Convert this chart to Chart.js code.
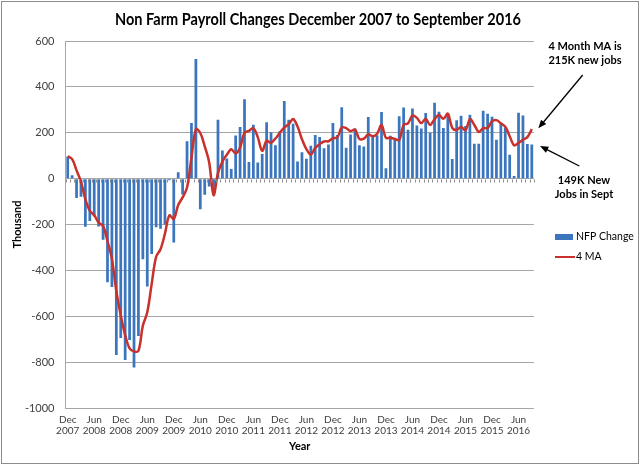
<!DOCTYPE html>
<html>
<head>
<meta charset="utf-8">
<script src="https://cdn.jsdelivr.net/npm/chart.js@4.4.1/dist/chart.umd.min.js"></script>
<style>
  html, body { margin: 0; padding: 0; background: #fff; }
  #wrap { width: 640px; height: 465px; }
</style>
</head>
<body>
<div id="wrap"><canvas id="nfpChart" width="640" height="465"></canvas></div>
<script>
// monthly change in nonfarm payrolls, thousands, Dec 2007 .. Sep 2016
const nfpChange = [
  97,
  15, -84, -79, -210, -185, -165, -209, -266, -452, -473, -769, -695,
  -791, -703, -823, -686, -351, -470, -329, -212, -219, -200, -7, -279,
  28, -69, 163, 243, 522, -133, -70, -34, -52, 257, 123, 88,
  42, 188, 225, 346, 73, 235, 70, 107, 246, 202, 146, 207,
  338, 257, 239, 75, 115, 87, 143, 190, 181, 132, 149, 243,
  190, 311, 135, 192, 218, 146, 140, 269, 185, 189, 291, 45,
  187, 168, 272, 310, 213, 306, 232, 218, 286, 200, 331, 292,
  221, 286, 86, 254, 274, 229, 279, 152, 152, 296, 283, 270,
  169, 242, 223, 104, 11, 287, 275, 151, 149
];

// 4 month moving average as plotted
const movingAvg4 = [
  97,
  85, 36, -13, -90, -140, -160, -192, -206, -273, -350, -490, -597,
  -682, -740, -753, -751, -641, -583, -459, -341, -308, -240, -160, -176,
  -115, -82, -39, 91, 215, 199, 141, 71, -72, 25, 74, 104,
  128, 110, 136, 200, 208, 220, 181, 121, 165, 156, 175, 200,
  223, 237, 260, 227, 172, 129, 105, 134, 150, 162, 163, 176,
  179, 223, 220, 207, 214, 173, 174, 193, 185, 196, 234, 178,
  178, 173, 168, 234, 241, 275, 265, 242, 261, 234, 259, 277,
  261, 283, 221, 212, 225, 211, 259, 234, 203, 220, 221, 250,
  255, 241, 226, 185, 145, 156, 169, 181, 216
];

const tickLabels = [
  'Dec 2007', 'Jun 2008', 'Dec 2008', 'Jun 2009', 'Dec 2009', 'Jun 2010',
  'Dec 2010', 'Jun 2011', 'Dec 2011', 'Jun 2012', 'Dec 2012', 'Jun 2013',
  'Dec 2013', 'Jun 2014', 'Dec 2014', 'Jun 2015', 'Dec 2015', 'Jun 2016'
];

const monthNames = ['Jan', 'Feb', 'Mar', 'Apr', 'May', 'Jun', 'Jul', 'Aug', 'Sep', 'Oct', 'Nov', 'Dec'];
const months = [];
for (let i = 0; i < nfpChange.length; i++) {
  const m = (11 + i) % 12;
  const y = 2007 + Math.floor((11 + i) / 12);
  months.push(monthNames[m] + ' ' + y);
}

const BAR_BLUE = '#3a75be';
const LINE_RED = '#c8312c';
const FONT = 'Lato, "Open Sans", sans-serif';

function arrow(ctx, x1, y1, x2, y2) {
  const a = Math.atan2(y2 - y1, x2 - x1);
  const h = 9;
  ctx.beginPath();
  ctx.moveTo(x1, y1);
  ctx.lineTo(x2 - Math.cos(a) * 4, y2 - Math.sin(a) * 4);
  ctx.stroke();
  ctx.beginPath();
  ctx.moveTo(x2, y2);
  ctx.lineTo(x2 - h * Math.cos(a - 0.38), y2 - h * Math.sin(a - 0.38));
  ctx.lineTo(x2 - h * Math.cos(a + 0.38), y2 - h * Math.sin(a + 0.38));
  ctx.closePath();
  ctx.fill();
}

// draw text squeezed sideways so it spans a given width (Calibri is narrower than Lato)
function fitText(ctx, text, cx, cy, width) {
  const w = ctx.measureText(text).width;
  const sx = Math.min(1, width / w);
  ctx.save();
  ctx.translate(cx, cy);
  ctx.scale(sx, 1);
  ctx.fillText(text, 0, 0);
  ctx.restore();
}

const decorations = {
  id: 'decorations',
  beforeDraw(chart) {
    const ctx = chart.ctx;
    ctx.save();
    ctx.fillStyle = '#fff';
    ctx.fillRect(0, 0, chart.width, chart.height);
    ctx.strokeStyle = '#8c8c8c';
    ctx.lineWidth = 1;
    ctx.strokeRect(1.5, 1.5, chart.width - 3, chart.height - 3);
    ctx.restore();
  },
  afterDatasetsDraw(chart) {
    const ctx = chart.ctx;
    const x = chart.scales.x;
    const y = chart.scales.y;
    const y0 = Math.round(y.getPixelForValue(0)) + 0.5;
    const step = (x.right - x.left) / months.length;

    ctx.save();
    // little category ticks under the zero line
    ctx.strokeStyle = '#8c8c8c';
    ctx.lineWidth = 1;
    ctx.beginPath();
    for (let i = 0; i <= months.length; i++) {
      const px = Math.round(x.left + i * step) + 0.5;
      ctx.moveTo(px, y0);
      ctx.lineTo(px, y0 + 3);
    }
    ctx.stroke();

    // title
    ctx.fillStyle = '#000';
    ctx.textAlign = 'center';
    ctx.textBaseline = 'middle';
    ctx.font = 'bold 17px ' + FONT;
    fitText(ctx, 'Non Farm Payroll Changes December 2007 to September 2016', 318, 20, 406);

    // legend
    ctx.textAlign = 'left';
    ctx.font = '10.5px ' + FONT;
    ctx.fillStyle = BAR_BLUE;
    ctx.fillRect(555, 234, 18, 6);
    ctx.fillStyle = '#000';
    ctx.fillText(chart.data.datasets[1].label, 576, 237);
    ctx.strokeStyle = LINE_RED;
    ctx.lineWidth = 2;
    ctx.beginPath();
    ctx.moveTo(555, 257);
    ctx.lineTo(575, 257);
    ctx.stroke();
    ctx.fillText(chart.data.datasets[0].label, 576, 257);

    // notes and arrows
    ctx.textAlign = 'center';
    ctx.font = 'bold 11px ' + FONT;
    ctx.fillText('4 Month MA is', 585, 46);
    ctx.fillText('215K new jobs', 585, 60);
    ctx.fillText('149K New', 584, 180);
    ctx.fillText('Jobs in Sept', 584, 194);
    ctx.strokeStyle = '#000';
    ctx.fillStyle = '#000';
    ctx.lineWidth = 1.3;
    arrow(ctx, 582.7, 75, 538.3, 128.3);
    arrow(ctx, 579.3, 166, 540, 146);
    ctx.restore();
  }
};

const ctx = document.getElementById('nfpChart').getContext('2d');
new Chart(ctx, {
  type: 'bar',
  data: {
    labels: months,
    datasets: [
      {
        type: 'line',
        label: '4 MA',
        data: movingAvg4,
        borderColor: LINE_RED,
        borderWidth: 2.5,
        pointRadius: 0,
        tension: 0.35,
        fill: false,
        order: 0
      },
      {
        type: 'bar',
        label: 'NFP Change',
        data: nfpChange,
        backgroundColor: BAR_BLUE,
        barPercentage: 0.62,
        categoryPercentage: 1.0,
        order: 1
      }
    ]
  },
  options: {
    responsive: false,
    animation: false,
    devicePixelRatio: 1,
    layout: { padding: { top: 41, right: 106, bottom: 0, left: 0 } },
    plugins: {
      legend: { display: false },
      title: { display: false },
      tooltip: { enabled: false }
    },
    scales: {
      x: {
        grid: { display: false, drawTicks: false },
        border: { display: false },
        ticks: {
          autoSkip: false,
          maxRotation: 0,
          minRotation: 0,
          padding: 6,
          color: '#404040',
          font: { family: FONT, size: 10, lineHeight: 1.1 },
          callback: function (val, i) {
            const lbl = months[i];
            return tickLabels.includes(lbl) ? lbl.split(' ') : '';
          }
        },
        title: {
          display: true,
          text: 'Year',
          color: '#000',
          font: { family: FONT, size: 11, weight: 'bold' },
          padding: { top: 0, bottom: 12 }
        },
        afterFit: (scale) => { scale.height = 57; }
      },
      y: {
        min: -1000,
        max: 600,
        grid: { color: '#a6a6a6', drawTicks: false },
        border: { display: true, color: '#a6a6a6' },
        ticks: {
          stepSize: 200,
          padding: 11,
          color: '#404040',
          font: { family: FONT, size: 11 },
          callback: (v) => String(v)
        },
        title: {
          display: true,
          text: 'Thousand',
          color: '#000',
          font: { family: FONT, size: 11, weight: 'bold' },
          padding: { top: 11, bottom: 0 }
        },
        afterFit: (scale) => { scale.width = 65.5; }
      }
    }
  },
  plugins: [decorations]
});
</script>
</body>
</html>
